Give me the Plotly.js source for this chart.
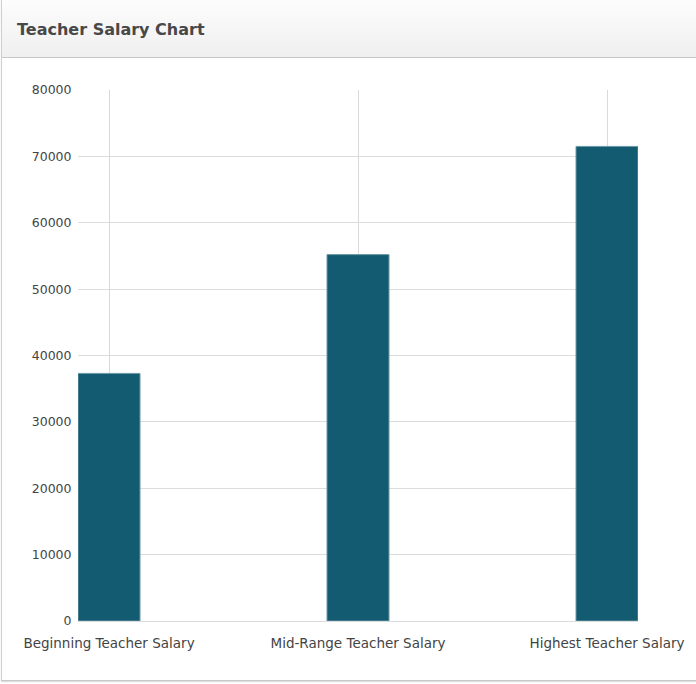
<!DOCTYPE html>
<html>
<head>
<meta charset="utf-8">
<script src="https://cdn.plot.ly/plotly-3.0.1.min.js"></script>
<style>
  html, body { margin:0; padding:0; width:696px; height:684px; background:#fff; overflow:hidden; }
  #frame { position:absolute; left:1px; top:0; width:700px; height:680px; border-left:1px solid #cfcfcf; border-bottom:1px solid #c8c8c8; box-shadow:0 1px 1px #ddd; }
  #header { position:absolute; left:2px; top:0; width:700px; height:57px; background:linear-gradient(#fdfdfd,#efefef); border-bottom:1px solid #c8c8c8; }
  #title { position:absolute; left:15px; top:20px; font-family:"DejaVu Sans", sans-serif; font-weight:bold; font-size:16px; color:#484848; }
  #chart { position:absolute; left:0; top:0; width:696px; height:684px; }
</style>
</head>
<body>
<div id="frame"></div>
<div id="header"><div id="title">Teacher Salary Chart</div></div>
<div id="chart"></div>
<script>
const categories = ["Beginning Teacher Salary", "Mid-Range Teacher Salary", "Highest Teacher Salary"];
const salaries = [37300, 55200, 71500];
const yTicks = [0, 10000, 20000, 30000, 40000, 50000, 60000, 70000, 80000];

const trace = {
  type: 'bar',
  x: categories,
  y: salaries,
  width: 0.249,
  marker: { color: '#135b70', line: { color: '#6f98a6', width: 1 } },
  hoverinfo: 'x+y'
};

const layout = {
  width: 696, height: 684,
  margin: { l: 78, r: 58, t: 90, b: 63 },
  paper_bgcolor: 'rgba(0,0,0,0)',
  plot_bgcolor: 'rgba(0,0,0,0)',
  showlegend: false,
  font: { family: '"DejaVu Sans", sans-serif', size: 12, color: '#444' },
  xaxis: {
    type: 'category',
    range: [-0.1245, 2.1245],
    showgrid: true, gridcolor: '#d9d9d9', gridwidth: 1,
    zeroline: false, showline: false,
    ticks: 'outside', ticklen: 10, tickcolor: 'rgba(0,0,0,0)',
    tickfont: { size: 13.5, color: '#444' }
  },
  yaxis: {
    range: [0, 80000],
    tickvals: yTicks,
    ticktext: yTicks.map(String),
    showgrid: true, gridcolor: '#dcdcdc', gridwidth: 1,
    zeroline: true, zerolinecolor: '#dcdcdc', zerolinewidth: 1,
    showline: false,
    ticks: 'outside', ticklen: 3, tickcolor: 'rgba(0,0,0,0)',
    tickfont: { size: 12.5, color: '#444' }
  },
  bargap: 0
};

Plotly.newPlot('chart', [trace], layout, { displayModeBar: false, staticPlot: true });
</script>
</body>
</html>
